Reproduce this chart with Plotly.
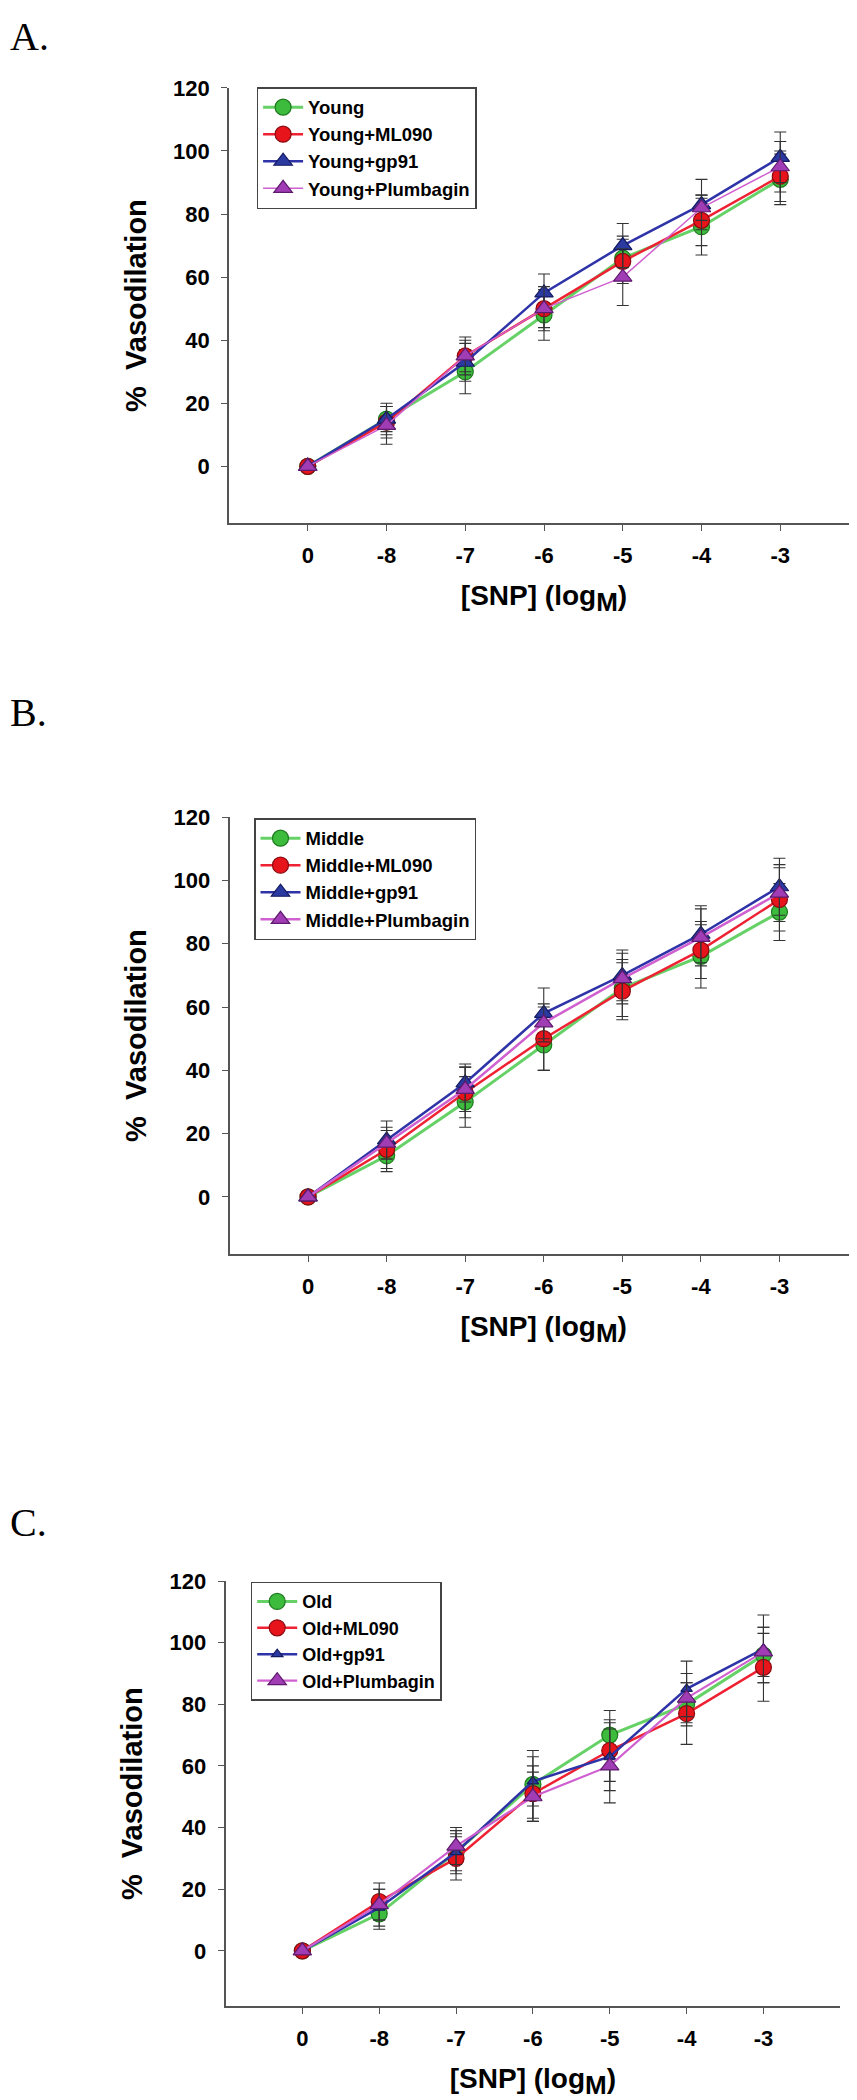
import plotly.graph_objects as go

# ---------------- data ----------------
x_labels = ["0", "-8", "-7", "-6", "-5", "-4", "-3"]
y_ticks = [0, 20, 40, 60, 80, 100, 120]

# Panel A (Young)
young = [0, 15, 30, 48, 66, 76, 91]
young_err = [0, 4, 7, 8, 7, 9, 8]
young_ml090 = [0, 14, 35, 50, 65, 78, 92]
young_ml090_err = [0, 5, 5, 6, 7, 8, 8]
young_gp91 = [0, 15, 33, 55, 70, 83, 98]
young_gp91_err = [0, 5, 6, 6, 7, 8, 8]
young_plumb = [0, 13, 35, 50, 60, 82, 95]
young_plumb_err = [0, 6, 6, 7, 9, 4, 8]

# Panel B (Middle)
middle = [0, 13, 30, 48, 66, 76, 90]
middle_err = [0, 5, 8, 8, 9, 10, 9]
middle_ml090 = [0, 15, 33, 50, 65, 78, 94]
middle_ml090_err = [0, 6, 8, 10, 9, 9, 10]
middle_gp91 = [0, 18, 36, 58, 70, 83, 98]
middle_gp91_err = [0, 6, 6, 8, 8, 9, 9]
middle_plumb = [0, 17, 34, 55, 69, 82, 96]
middle_plumb_err = [0, 5, 7, 6, 8, 9, 9]

# Panel C (Old)
old = [0, 12, 32, 54, 70, 80, 96]
old_err = [0, 5, 6, 11, 8, 7, 9]
old_ml090 = [0, 16, 30, 51, 65, 77, 92]
old_ml090_err = [0, 6, 7, 9, 10, 10, 11]
old_gp91 = [0, 14, 32, 55, 63, 85, 98]
old_gp91_err = [0, 6, 7, 8, 11, 9, 11]
old_plumb = [0, 15, 34, 50, 60, 82, 97]
old_plumb_err = [0, 5, 6, 8, 12, 8, 8]

W, H = 857, 2100
FONT = "Liberation Sans, Arial, sans-serif"


def px_x(p):
    return p / W


def px_y(p):
    return 1 - p / H


# series styles: (name suffix, symbol, fill, outline, line color, line width, marker size)
styles = [
    ("", "circle", "#3dbb3d", "#1e7a1e", "#66d166", 3, 16),
    ("+ML090", "circle", "#e8141c", "#8a0a10", "#ee2233", 2.5, 16),
    ("+gp91", "triangle-up", "#2b3aa0", "#141a60", "#2e33a8", 2.5, 16),
    ("+Plumbagin", "triangle-up", "#a03cb4", "#5e1a6e", "#d060d0", 1.8, 16),
]

panels = [
    {
        "prefix": "Young",
        "series": [(young, young_err), (young_ml090, young_ml090_err),
                   (young_gp91, young_gp91_err), (young_plumb, young_plumb_err)],
        "xdom": (221, 851), "ydom": (68.3, 506),
        "legend": (248.6, 67.5), "legfont": 18.5, "plumbw": 1.5,
        "label": ("A.", 0, -8),
    },
    {
        "prefix": "Middle",
        "series": [(middle, middle_err), (middle_ml090, middle_ml090_err),
                   (middle_gp91, middle_gp91_err), (middle_plumb, middle_plumb_err)],
        "xdom": (221.5, 850), "ydom": (801.7, 1241),
        "legend": (246, 802.7), "legfont": 18.5, "plumbw": 2.5,
        "label": ("B.", 0, 672),
    },
    {
        "prefix": "Old",
        "series": [(old, old_err), (old_ml090, old_ml090_err),
                   (old_gp91, old_gp91_err), (old_plumb, old_plumb_err)],
        "xdom": (217.5, 832.3), "ydom": (1570, 1997.7),
        "legend": (242.7, 1570.7), "legfont": 18, "plumbw": 2.2,
        "label": ("C.", 0, 1486),
    },
]

fig = go.Figure()
layout = dict(
    width=W, height=H,
    margin=dict(l=0, r=0, t=0, b=0),
    paper_bgcolor="white", plot_bgcolor="white",
    font=dict(family=FONT, color="black"),
    annotations=[],
)

for i, p in enumerate(panels):
    n = "" if i == 0 else str(i + 1)
    xa, ya = "x" + n, "y" + n
    leg = "legend" + n
    for (vals, errs), st in zip(p["series"], styles):
        suffix, sym, fill, outline, lcol, lw, ms = st
        if p["prefix"] == "Old" and suffix == "+gp91":
            ms = 10
        if suffix == "+Plumbagin":
            lw = p["plumbw"]
        fig.add_trace(go.Scatter(
            x=x_labels, y=vals,
            name=p["prefix"] + suffix,
            mode="lines+markers",
            line=dict(color=lcol, width=lw),
            marker=dict(symbol=sym, size=ms, color=fill,
                        line=dict(color=outline, width=1.2)),
            error_y=dict(type="data", array=errs, visible=True,
                         color="#333333", thickness=1.1, width=6),
            xaxis=xa, yaxis=ya, legend=leg,
        ))

    x0, x1 = p["xdom"]
    y0, y1 = p["ydom"]
    axis_common = dict(
        showline=True, linecolor="#555555", linewidth=1.6,
        ticks="outside", ticklen=6, tickwidth=1.4, tickcolor="#555555",
        showgrid=False, zeroline=False,
        tickfont=dict(family=FONT, size=22, weight="bold", color="black"),
    )
    layout["xaxis" + n] = dict(
        axis_common,
        type="category", categoryorder="array", categoryarray=x_labels,
        range=[-1, 7],
        domain=[px_x(x0), px_x(x1)], anchor=ya,
        ticklabelstandoff=6,
        title=dict(text="[SNP] (log<sub><span style='font-size:26px'>M</span></sub>)",
                   font=dict(family=FONT, size=28, weight="bold"),
                   standoff=18),
    )
    layout["yaxis" + n] = dict(
        axis_common,
        range=[-18, 120], tickvals=y_ticks,
        domain=[px_y(y1), px_y(y0)], anchor=xa,
        ticklabelstandoff=7,
        title=dict(text="%  Vasodilation",
                   font=dict(family=FONT, size=29, weight="bold"),
                   standoff=18),
    )
    lx, ly = p["legend"]
    layout[leg] = dict(
        x=px_x(lx), y=px_y(ly), xanchor="left", yanchor="top",
        bordercolor="#444444", borderwidth=1.5, bgcolor="white",
        font=dict(family=FONT, size=p["legfont"], weight="bold", color="black"),
        tracegroupgap=0, itemwidth=40,
    )
    txt, ax_, ay_ = p["label"]
    layout["annotations"].append(dict(
        text=txt, x=px_x(ax_), y=px_y(ay_), xref="paper", yref="paper",
        xanchor="left", yanchor="top", showarrow=False,
        font=dict(family="Liberation Serif, Times New Roman, serif", size=40, color="black"),
    ))

fig.update_layout(**layout)
fig.write_html("out.html")
